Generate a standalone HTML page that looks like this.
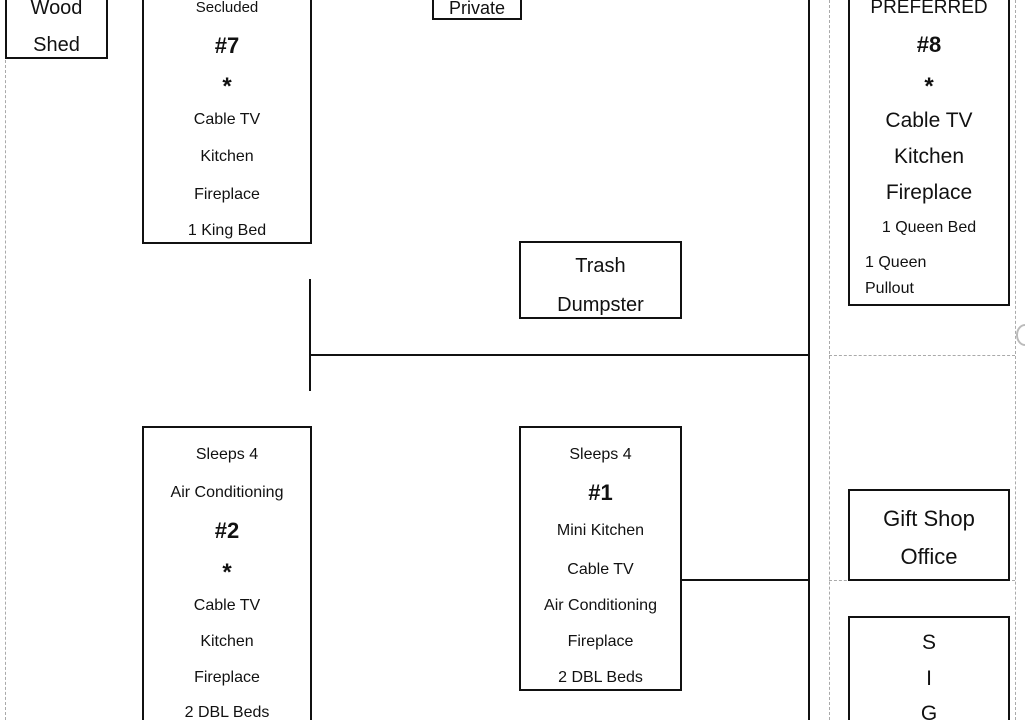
<!DOCTYPE html>
<html><head><meta charset="utf-8"><style>
html,body{margin:0;padding:0;background:#fff;}
#c{position:relative;width:1025px;height:720px;overflow:hidden;background:#fff;font-family:"Liberation Sans",sans-serif;color:#111;}
.b{position:absolute;border:2px solid #111;box-sizing:border-box;}
.l{position:absolute;background:#111;}
.d{position:absolute;}
.t{position:absolute;text-align:center;line-height:1;white-space:nowrap;}
.s{font-size:24px;font-weight:bold;}
</style></head><body><div id="c">
<div class="d" style="left:5px;top:55px;height:670px;border-left:1px dashed #aaa;"></div>
<div class="d" style="left:829px;top:0;height:720px;border-left:1px dashed #aaa;"></div>
<div class="d" style="left:1015px;top:0;height:720px;border-left:1px dashed #aaa;"></div>
<div class="d" style="left:829px;top:355px;width:186px;border-top:1px dashed #aaa;"></div>
<div class="d" style="left:829px;top:580px;width:186px;border-top:1px dashed #aaa;"></div>
<div class="d" style="left:1016px;top:324px;width:14px;height:18px;border:2px solid #bbb;border-radius:50%;"></div>

<div class="l" style="left:808px;top:0;width:2px;height:720px;"></div>
<div class="l" style="left:310px;top:354px;width:499px;height:2px;"></div>
<div class="l" style="left:309px;top:279px;width:2px;height:112px;"></div>
<div class="l" style="left:681px;top:579px;width:128px;height:2px;"></div>

<div class="b" style="left:5px;top:-10px;width:103px;height:69px;"></div>
<div class="t" style="left:5px;width:103px;top:-2px;font-size:20px;">Wood</div>
<div class="t" style="left:5px;width:103px;top:35px;font-size:20px;">Shed</div>

<div class="b" style="left:142px;top:-10px;width:170px;height:254px;"></div>
<div class="t" style="left:142px;width:170px;top:0px;font-size:15px;">Secluded</div>
<div class="t" style="left:142px;width:170px;top:35px;font-size:22px;font-weight:bold;">#7</div>
<div class="t s" style="left:142px;width:170px;top:75px;">*</div>
<div class="t" style="left:142px;width:170px;top:112px;font-size:16px;">Cable TV</div>
<div class="t" style="left:142px;width:170px;top:149px;font-size:16px;">Kitchen</div>
<div class="t" style="left:142px;width:170px;top:187px;font-size:16px;">Fireplace</div>
<div class="t" style="left:142px;width:170px;top:223px;font-size:16px;">1 King Bed</div>

<div class="b" style="left:432px;top:-10px;width:90px;height:30px;"></div>
<div class="t" style="left:432px;width:90px;top:-1px;font-size:18px;">Private</div>

<div class="b" style="left:519px;top:241px;width:163px;height:78px;"></div>
<div class="t" style="left:519px;width:163px;top:256px;font-size:20px;">Trash</div>
<div class="t" style="left:519px;width:163px;top:295px;font-size:20px;">Dumpster</div>

<div class="b" style="left:848px;top:-10px;width:162px;height:316px;"></div>
<div class="t" style="left:848px;width:162px;top:-2px;font-size:19px;">PREFERRED</div>
<div class="t" style="left:848px;width:162px;top:34px;font-size:22px;font-weight:bold;">#8</div>
<div class="t s" style="left:848px;width:162px;top:75px;">*</div>
<div class="t" style="left:848px;width:162px;top:110px;font-size:21px;">Cable TV</div>
<div class="t" style="left:848px;width:162px;top:146px;font-size:21px;">Kitchen</div>
<div class="t" style="left:848px;width:162px;top:182px;font-size:21px;">Fireplace</div>
<div class="t" style="left:848px;width:162px;top:220px;font-size:16px;">1 Queen Bed</div>
<div class="t" style="left:865px;top:255px;font-size:16px;text-align:left;">1 Queen</div>
<div class="t" style="left:865px;top:281px;font-size:16px;text-align:left;">Pullout</div>

<div class="b" style="left:848px;top:489px;width:162px;height:92px;"></div>
<div class="t" style="left:848px;width:162px;top:508px;font-size:22px;">Gift Shop</div>
<div class="t" style="left:848px;width:162px;top:546px;font-size:22px;">Office</div>

<div class="b" style="left:848px;top:616px;width:162px;height:120px;"></div>
<div class="t" style="left:848px;width:162px;top:632px;font-size:21px;">S</div>
<div class="t" style="left:848px;width:162px;top:668px;font-size:21px;">I</div>
<div class="t" style="left:848px;width:162px;top:703px;font-size:21px;">G</div>

<div class="b" style="left:142px;top:426px;width:170px;height:310px;"></div>
<div class="t" style="left:142px;width:170px;top:447px;font-size:16px;">Sleeps 4</div>
<div class="t" style="left:142px;width:170px;top:485px;font-size:16px;">Air Conditioning</div>
<div class="t" style="left:142px;width:170px;top:520px;font-size:22px;font-weight:bold;">#2</div>
<div class="t s" style="left:142px;width:170px;top:561px;">*</div>
<div class="t" style="left:142px;width:170px;top:598px;font-size:16px;">Cable TV</div>
<div class="t" style="left:142px;width:170px;top:634px;font-size:16px;">Kitchen</div>
<div class="t" style="left:142px;width:170px;top:670px;font-size:16px;">Fireplace</div>
<div class="t" style="left:142px;width:170px;top:705px;font-size:16px;">2 DBL Beds</div>

<div class="b" style="left:519px;top:426px;width:163px;height:265px;"></div>
<div class="t" style="left:519px;width:163px;top:447px;font-size:16px;">Sleeps 4</div>
<div class="t" style="left:519px;width:163px;top:482px;font-size:22px;font-weight:bold;">#1</div>
<div class="t" style="left:519px;width:163px;top:523px;font-size:16px;">Mini Kitchen</div>
<div class="t" style="left:519px;width:163px;top:562px;font-size:16px;">Cable TV</div>
<div class="t" style="left:519px;width:163px;top:598px;font-size:16px;">Air Conditioning</div>
<div class="t" style="left:519px;width:163px;top:634px;font-size:16px;">Fireplace</div>
<div class="t" style="left:519px;width:163px;top:670px;font-size:16px;">2 DBL Beds</div>
</div></body></html>
